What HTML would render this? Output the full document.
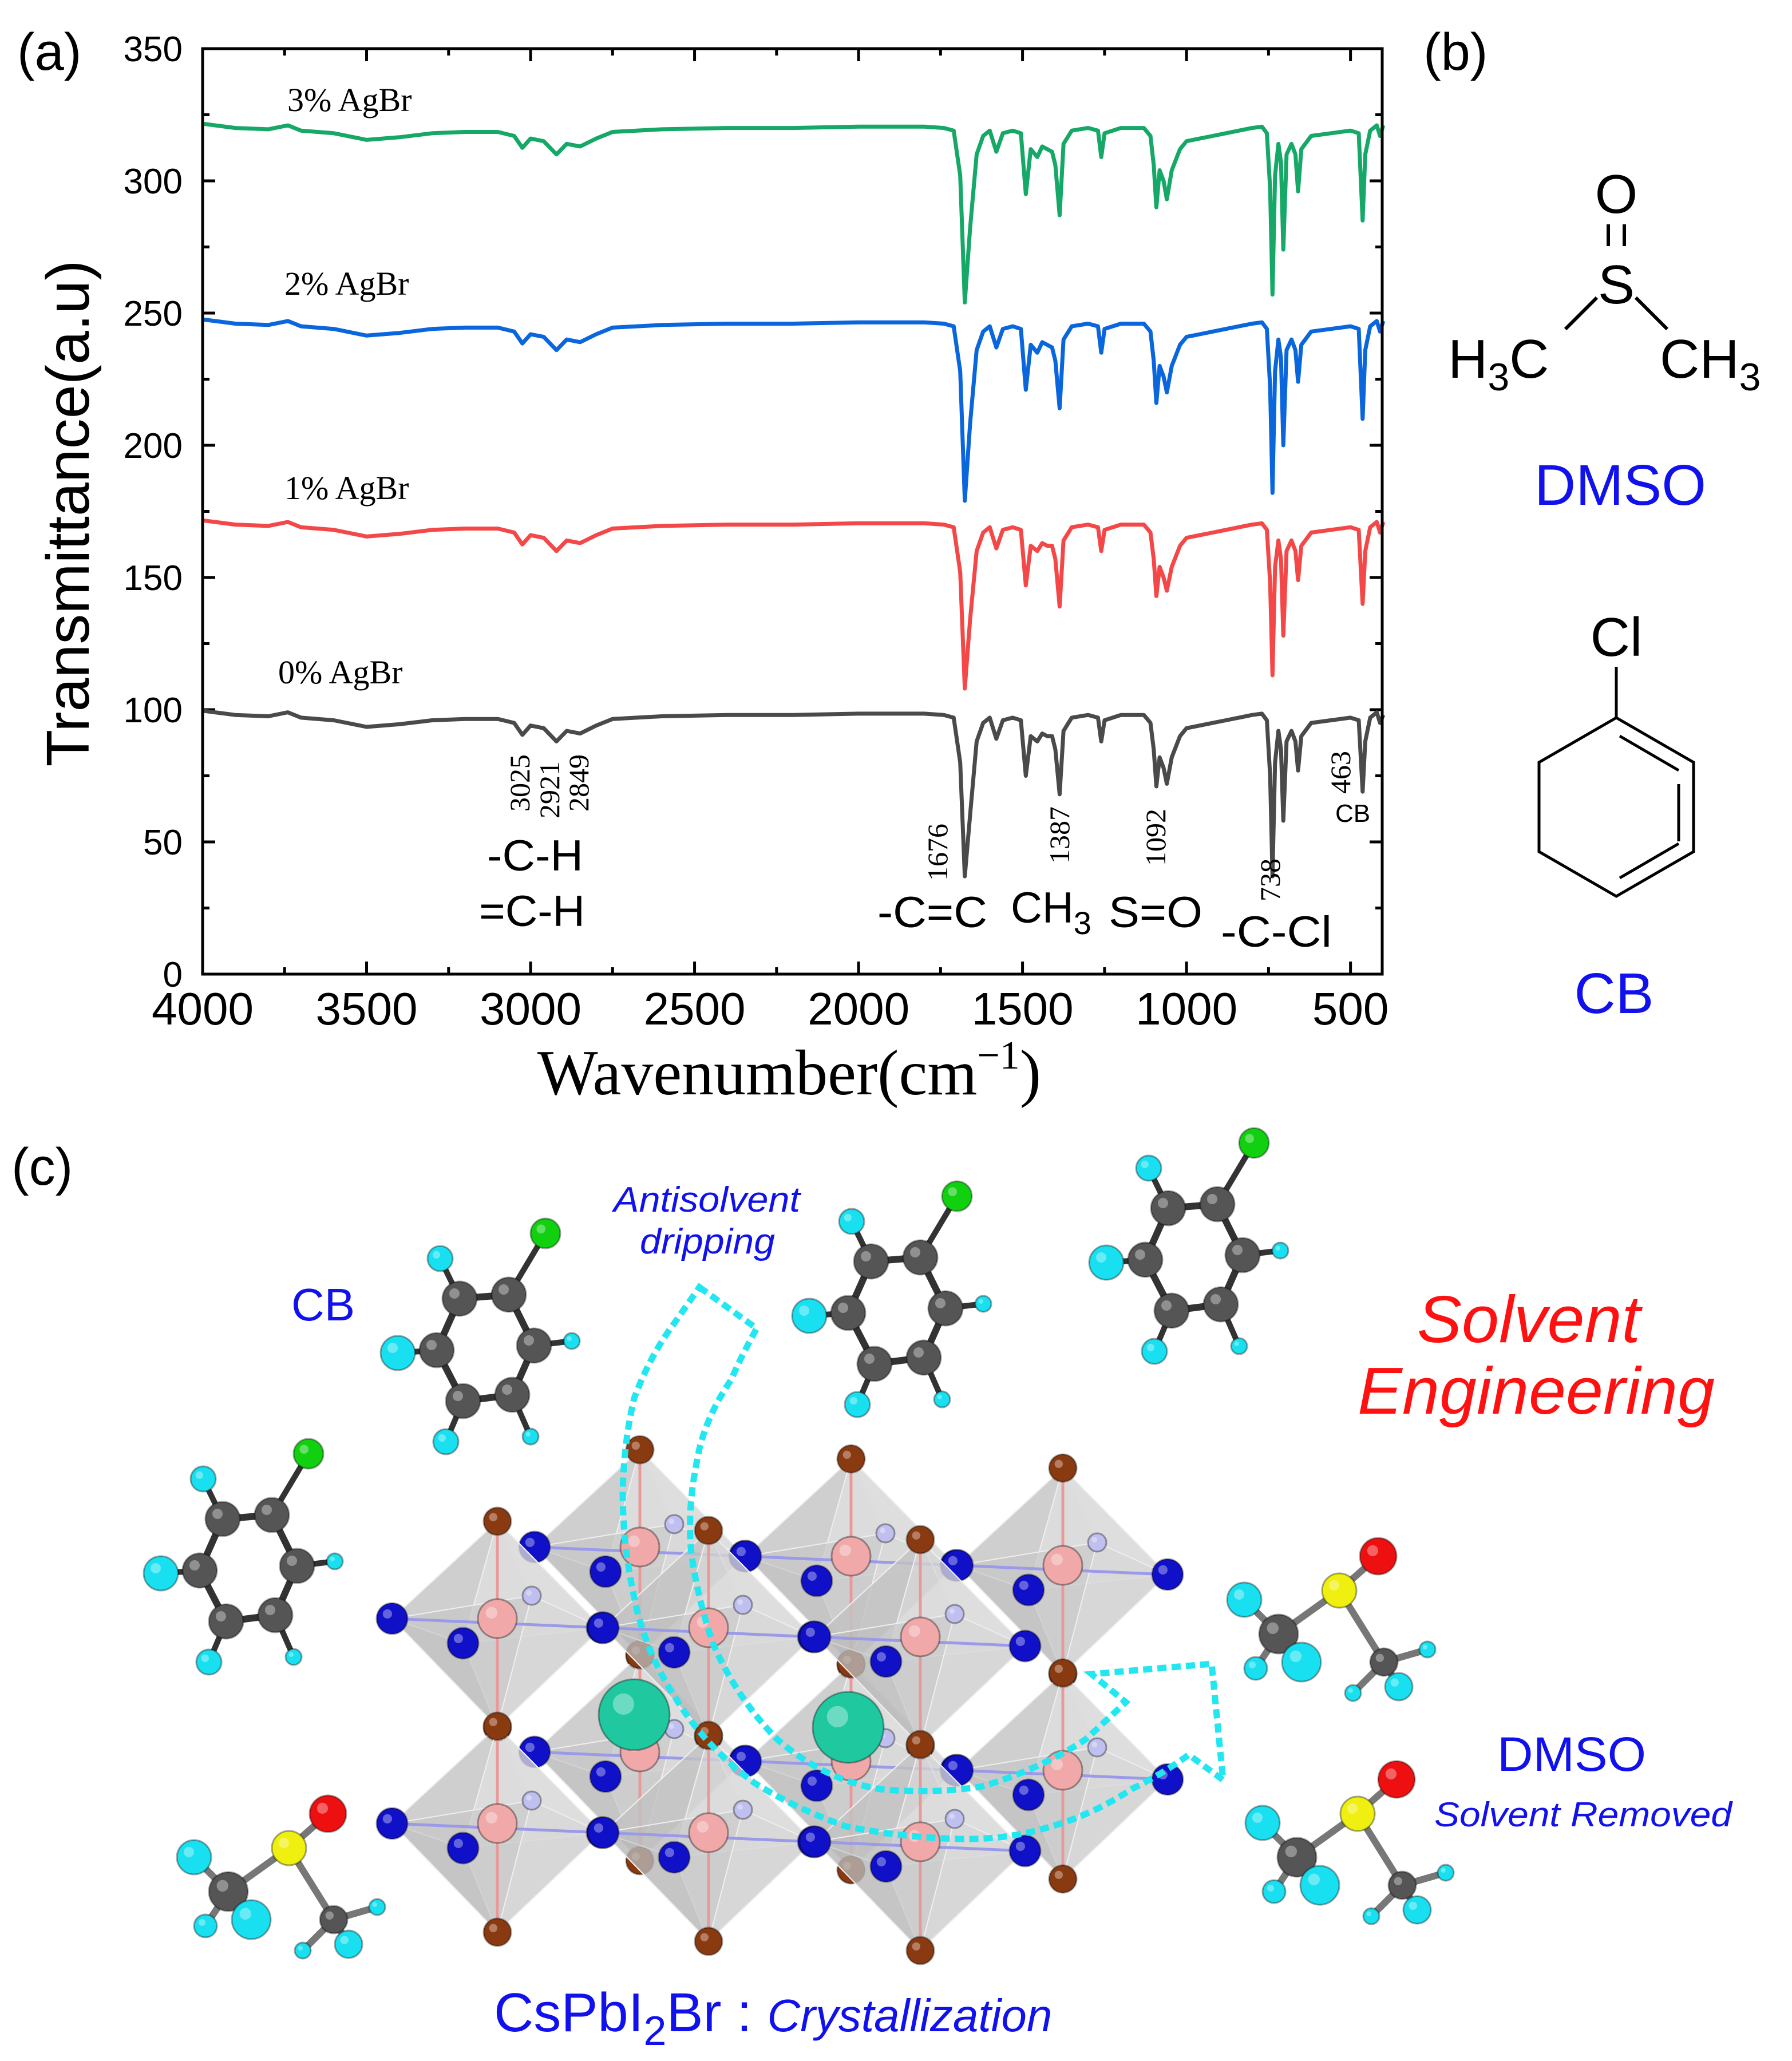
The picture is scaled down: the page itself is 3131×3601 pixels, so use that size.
<!DOCTYPE html>
<html><head><meta charset="utf-8"><style>
html,body{margin:0;padding:0;background:#fff;}
svg{display:block;}
text{font-family:"Liberation Sans",sans-serif;}
.serif{font-family:"Liberation Serif",serif;}
</style></head><body>
<svg id="fig" width="3131" height="3601" viewBox="0 0 3131 3601" xmlns="http://www.w3.org/2000/svg">
<rect width="3131" height="3601" fill="#fff"/>
<g id="panel-a">
<text x="30" y="122" font-size="92">(a)</text>
<g id="ticks"></g>
<g id="series"></g>
<rect x="354" y="85" width="2061" height="1617" fill="none" stroke="#000" stroke-width="5"/>
<text transform="translate(155,897) rotate(-90)" text-anchor="middle" font-size="106" textLength="885" lengthAdjust="spacingAndGlyphs">Transmittance(a.u)</text>
<text class="serif" x="1379" y="1912" text-anchor="middle" font-size="112">Wavenumber(cm<tspan dy="-45" font-size="70">−1</tspan><tspan dy="45">)</tspan></text>
<text class="serif" x="502" y="194" font-size="58">3% AgBr</text>
<text class="serif" x="497" y="515" font-size="58">2% AgBr</text>
<text class="serif" x="497" y="872" font-size="58">1% AgBr</text>
<text class="serif" x="486" y="1194" font-size="58">0% AgBr</text>
<g class="serif" font-size="50">
<text class="serif" transform="translate(925,1418) rotate(-90)">3025</text>
<text class="serif" transform="translate(977,1430) rotate(-90)">2921</text>
<text class="serif" transform="translate(1028,1418) rotate(-90)">2849</text>
<text class="serif" transform="translate(1655,1539) rotate(-90)">1676</text>
<text class="serif" transform="translate(1868,1509) rotate(-90)">1387</text>
<text class="serif" transform="translate(2036,1513) rotate(-90)">1092</text>
<text class="serif" transform="translate(2236,1575) rotate(-90)">738</text>
<text class="serif" transform="translate(2359,1387) rotate(-90)">463</text>
</g>
<text x="2333" y="1436" font-size="44">CB</text>
<g font-size="76">
<text x="851" y="1521" textLength="168" lengthAdjust="spacingAndGlyphs">-C-H</text>
<text x="837" y="1618" textLength="185" lengthAdjust="spacingAndGlyphs">=C-H</text>
<text x="1533" y="1620" textLength="192" lengthAdjust="spacingAndGlyphs">-C=C</text>
<text x="1766" y="1612">CH<tspan dy="20" font-size="56">3</tspan></text>
<text x="1937" y="1620" textLength="164" lengthAdjust="spacingAndGlyphs">S=O</text>
<text x="2133" y="1654" textLength="194" lengthAdjust="spacingAndGlyphs">-C-Cl</text>
</g>
</g>
<g id="panel-b">
<text x="2487" y="122" font-size="92">(b)</text>
<text x="2824" y="372" text-anchor="middle" font-size="96">O</text>
<line x1="2810" y1="392" x2="2810" y2="430" stroke="#000" stroke-width="6"/>
<line x1="2838" y1="392" x2="2838" y2="430" stroke="#000" stroke-width="6"/>
<text x="2824" y="530" text-anchor="middle" font-size="96">S</text>
<line x1="2790" y1="520" x2="2735" y2="575" stroke="#000" stroke-width="6"/>
<line x1="2858" y1="520" x2="2913" y2="575" stroke="#000" stroke-width="6"/>
<text x="2530" y="660" font-size="96">H<tspan dy="22" font-size="68">3</tspan><tspan dy="-22">C</tspan></text>
<text x="2900" y="660" font-size="96">CH<tspan dy="22" font-size="68">3</tspan></text>
<text x="2831" y="882" text-anchor="middle" font-size="100" fill="#1111ee">DMSO</text>
<text x="2824" y="1146" text-anchor="middle" font-size="96">Cl</text>
<line x1="2824" y1="1165" x2="2824" y2="1254" stroke="#000" stroke-width="5"/>
<polygon points="2824,1254 2959,1332 2959,1488 2824,1566 2689,1488 2689,1332" fill="none" stroke="#000" stroke-width="5"/>
<line x1="2830" y1="1286" x2="2933" y2="1346" stroke="#000" stroke-width="5"/>
<line x1="2933" y1="1370" x2="2933" y2="1470" stroke="#000" stroke-width="5"/>
<line x1="2830" y1="1534" x2="2933" y2="1474" stroke="#000" stroke-width="5"/>
<line x1="2715" y1="1370" x2="2715" y2="1450" stroke="#000" stroke-width="0"/>
<text x="2820" y="1770" text-anchor="middle" font-size="100" fill="#1111ee">CB</text>
</g>
<g id="panel-c">
<text x="20" y="2070" font-size="92">(c)</text>
<g id="crystal"></g>
<g id="mols"></g>
<path d="M1222,2249 L1322,2321 Q1290,2380 1278,2410 Q1230,2480 1218,2551 Q1200,2640 1208,2714 Q1220,2800 1248,2877 Q1290,2970 1358,3039 Q1440,3110 1538,3126 Q1630,3135 1717,3121 Q1820,3090 1897,3039 L1967,2974 L1907,2925 L2117,2907 L2137,3110 L2077,3066 Q2030,3100 1977,3126 Q1910,3170 1837,3191 Q1760,3215 1677,3213 Q1570,3210 1478,3191 Q1390,3160 1318,3115 Q1230,3050 1178,2963 Q1125,2880 1108,2790 Q1088,2700 1088,2605 Q1090,2520 1108,2443 Q1135,2370 1178,2312 Z" fill="none" stroke="#22e6f0" stroke-width="11" stroke-dasharray="16,9"/>
<text x="509" y="2307" font-size="80" fill="#1111ee">CB</text>
<text x="1072" y="2117" font-size="62" font-style="italic" fill="#1111ee" textLength="326" lengthAdjust="spacingAndGlyphs">Antisolvent</text>
<text x="1118" y="2190" font-size="62" font-style="italic" fill="#1111ee" textLength="236" lengthAdjust="spacingAndGlyphs">dripping</text>
<text x="2476" y="2345" font-size="116" font-style="italic" fill="#ff1111" textLength="390" lengthAdjust="spacingAndGlyphs">Solvent</text>
<text x="2372" y="2470" font-size="116" font-style="italic" fill="#ff1111" textLength="624" lengthAdjust="spacingAndGlyphs">Engineering</text>
<text x="2616" y="3094" font-size="84" fill="#1111ee" textLength="260" lengthAdjust="spacingAndGlyphs">DMSO</text>
<text x="2506" y="3191" font-size="60" font-style="italic" fill="#1111ee" textLength="520" lengthAdjust="spacingAndGlyphs">Solvent Removed</text>
<text x="863" y="3549" font-size="96" fill="#1111ee">CsPbI<tspan dy="24" font-size="72">2</tspan><tspan dy="-24">Br : </tspan><tspan font-style="italic" font-size="80">Crystallization</tspan></text>
</g>
</svg>
<script>
const wavenumbers=[4000,3900,3800,3740,3700,3600,3500,3400,3300,3200,3100,3050,3025,3000,2960,2921,2890,2849,2800,2750,2600,2400,2200,2000,1800,1740,1710,1690,1676,1660,1640,1620,1600,1580,1560,1530,1505,1490,1475,1455,1440,1425,1410,1400,1387,1375,1350,1300,1270,1260,1250,1200,1130,1110,1100,1092,1082,1070,1060,1045,1020,1000,960,920,880,840,800,770,755,745,738,730,720,712,705,695,680,668,660,650,620,560,500,475,463,455,440,420,410,400];
const agbr0=[99.6,98,97.5,99,97,96,93.5,94.5,96,96.5,96.5,95,90.5,94,93,88,92,91,94,96.5,97.5,98,98,98.5,98.5,98,97,80,37,60,88,95,97,89,96,97,96,75,90,88,91,90,90,85,68,92,97,98,97,88,96,98,98,95,85,71,82,78,72,82,90,93,94,95,96,97,98,98.5,96,75,37,80,92,85,58,88,92,88,77,90,95,96,97,96,69,88,97,99,95,98];
const agbr1=[171.6,170,169.5,171,169,168,165.5,166.5,168,168.5,168.5,167,162.5,166,165,160,164,163,166,168.5,169.5,170,170,170.5,170.5,170,169,152,108,134,160,167,169,161,168,169,168,147,162,160,163,162,162,157,139,164,169,170,169,160,168,170,170,167,157,143,154,150,145,154,162,165,166,167,168,169,170,170.5,168,148,113,154,164,157,128,160,164,160,149,162,167,168,169,168,140,160,169,171,167,171];
const agbr2=[247.6,246,245.5,247,245,244,241.5,242.5,244,244.5,244.5,243,238.5,242,241,236,240,239,242,244.5,245.5,246,246,246.5,246.5,246,245,228,179,208,236,243,245,237,244,245,244,221,238,235,239,238,237,232,214,240,245,246,245,235,244,246,246,243,232,216,230,226,220,230,238,241,242,243,244,245,246,246.5,244,222,182,228,240,233,200,236,240,236,224,238,243,244,245,244,210,236,245,247,243,247];
const agbr3=[321.6,320,319.5,321,319,318,315.5,316.5,318,318.5,318.5,317,312.5,316,315,310,314,313,316,318.5,319.5,320,320,320.5,320.5,320,319,302,254,282,310,317,319,311,318,319,318,295,312,309,313,312,311,306,287,314,319,320,319,309,318,320,320,317,306,290,304,300,293,304,312,315,316,317,318,319,320,320.5,318,297,257,302,314,307,274,310,314,310,296,312,317,318,319,318,285,310,319,321,317,321];
const xTickLabels=[4000,3500,3000,2500,2000,1500,1000,500];
const yTickLabels=[0,50,100,150,200,250,300,350];
const NS='http://www.w3.org/2000/svg';
const X0=354,X1=2415,Y0=1702,Y1=85,WMAX=4000,WMIN=403.4,VMIN=0,VMAX=350;
function xs(w){return X0+(WMAX-w)/(WMAX-WMIN)*(X1-X0);}
function ys(v){return Y0-(v-VMIN)/(VMAX-VMIN)*(Y0-Y1);}
function mk(tag,attrs,parent){const e=document.createElementNS(NS,tag);for(const k in attrs)e.setAttribute(k,attrs[k]);parent.appendChild(e);return e;}
const ticks=document.getElementById('ticks');
for(let w=4000;w>=500;w-=250){const x=xs(w),L=(w%500===0)?22:12;
 let t=mk('line',{x1:x,y1:Y0,x2:x,y2:Y0-L,stroke:'#000','stroke-width':5},ticks);
 
 
 t=mk('line',{x1:x,y1:Y1,x2:x,y2:Y1+L,stroke:'#000','stroke-width':5},ticks);
 
 }
for(let v=0;v<=350;v+=25){const y=ys(v),L=(v%50===0)?22:12;
 let t=mk('line',{x1:X0,y1:y,x2:X0+L,y2:y,stroke:'#000','stroke-width':5},ticks);
 
 
 t=mk('line',{x1:X1,y1:y,x2:X1-L,y2:y,stroke:'#000','stroke-width':5},ticks);
 
 }
xTickLabels.forEach(w=>{const t=mk('text',{x:xs(w),y:1790,'text-anchor':'middle','font-size':80},ticks);t.textContent=w;
 
 });
yTickLabels.forEach(v=>{const t=mk('text',{x:319,y:ys(v)+22,'text-anchor':'end','font-size':62},ticks);t.textContent=v;
 
 });
const series=document.getElementById('series');
[[agbr0,'#4a4a4a','series-0pct-agbr'],[agbr1,'#f44848','series-1pct-agbr'],[agbr2,'#0a66dc','series-2pct-agbr'],[agbr3,'#15a866','series-3pct-agbr']].forEach(([vals,col,name])=>{
 const d=vals.map((v,i)=>(i?'L':'M')+xs(wavenumbers[i]).toFixed(1)+','+ys(v).toFixed(1)).join(' ');
 const p=mk('path',{d:d,fill:'none',stroke:col,'stroke-width':7,'stroke-linejoin':'round'},series);
 
 });
// crystal
const cr=document.getElementById('crystal');
function ball(x,y,r,col,parent){const g=mk('circle',{cx:x,cy:y,r:r,fill:col,stroke:'rgba(0,0,0,0.35)','stroke-width':3},parent);
 mk('circle',{cx:x-r*0.3,cy:y-r*0.3,r:r*0.3,fill:'rgba(255,255,255,0.35)'},parent);return g;}
function oct(cx,cy){const g=mk('g',{},cr);
 
 
 const T=[cx,cy-170],B=[cx,cy+190],Lf=[cx-184,cy],R=[cx+183,cy+16],F=[cx-60,cy+43],K=[cx+60,cy-40];
 const faces=[[T,Lf,K],[T,K,R],[T,Lf,F],[T,F,R],[B,Lf,F],[B,F,R],[B,Lf,K],[B,K,R]];
 const shades=['#d8d8d8','#e4e4e4','#b8b8b8','#cfcfcf','#a8a8a8','#c4c4c4','#bdbdbd','#d0d0d0'];
 faces.forEach((f,i)=>mk('polygon',{points:f.map(p=>p.join(',')).join(' '),fill:shades[i],'fill-opacity':0.55,stroke:'#eee','stroke-width':2},g));
 mk('line',{x1:T[0],y1:T[1],x2:B[0],y2:B[1],stroke:'#e89a9a','stroke-width':5},g);
 mk('line',{x1:Lf[0],y1:Lf[1],x2:R[0],y2:R[1],stroke:'#9a9ae8','stroke-width':5},g);
 ball(K[0],K[1],16,'#bfc0f0',g);
 ball(cx,cy,34,'#f0a8a8',g);
 ball(T[0],T[1],24,'#8a3a10',g);ball(B[0],B[1],24,'#8a3a10',g);
 ball(Lf[0],Lf[1],27,'#1010c8',g);ball(R[0],R[1],27,'#1010c8',g);ball(F[0],F[1],27,'#1010c8',g);}
const cols=[869,1238,1608],rows=[2828,3186];
for(const r of rows)for(let i=0;i<3;i++)oct(cols[i]+249,r-125+i*16);
for(const r of rows)for(let i=0;i<3;i++)oct(cols[i],r+i*16);
[[1108,2996],[1482,3018]].forEach(([x,y])=>{const c=ball(x,y,62,'#20c8a0',cr);
 
 });
// molecules
const mols=document.getElementById('mols');
function cb(cx,cy){const g=mk('g',{},mols);
 
 
 const C=[[-46,-87],[40,-94],[84,-5],[46,81],[-40,92],[-86,3]];
 const H=[[-80,-157,22],[-154,8,30],[-70,163,22],[78,154,14],[150,-13,14]];
 const hi=[0,5,4,3,2];
 for(let i=0;i<6;i++){const a=C[i],b=C[(i+1)%6];mk('line',{x1:cx+a[0],y1:cy+a[1],x2:cx+b[0],y2:cy+b[1],stroke:'#333','stroke-width':12},g);}
 H.forEach((h,k)=>{const a=C[hi[k]];mk('line',{x1:cx+a[0],y1:cy+a[1],x2:cx+h[0],y2:cy+h[1],stroke:'#333','stroke-width':10},g);});
 mk('line',{x1:cx+40,y1:cy-94,x2:cx+104,y2:cy-201,stroke:'#333','stroke-width':10},g);
 C.forEach(a=>ball(cx+a[0],cy+a[1],30,'#555',g));
 H.forEach(h=>ball(cx+h[0],cy+h[1],h[2],'#18e0f0',g));
 ball(cx+104,cy-201,26,'#10d010',g);}
cb(849,2356);cb(1568,2291);cb(2087,2198);cb(435,2741);
function dmso(dx,dy){const g=mk('g',{},mols);
 
 
 const S=[505,3229],O=[573,3169],C1=[399,3305],C2=[583,3354];
 const H=[[339,3245,30,C1],[359,3365,20,C1],[439,3354,34,C1],[529,3408,14,C2],[609,3397,24,C2],[659,3332,14,C2]];
 const L=(a,b)=>mk('line',{x1:a[0]+dx,y1:a[1]+dy,x2:b[0]+dx,y2:b[1]+dy,stroke:'#777','stroke-width':12},g);
 L(S,O);L(S,C1);L(S,C2);H.forEach(h=>L(h,h[3]));
 ball(C1[0]+dx,C1[1]+dy,34,'#555',g);ball(C2[0]+dx,C2[1]+dy,24,'#555',g);
 H.forEach(h=>ball(h[0]+dx,h[1]+dy,h[2],'#18e0f0',g));
 ball(S[0]+dx,S[1]+dy,30,'#f0f010',g);ball(O[0]+dx,O[1]+dy,32,'#ee1010',g);}
dmso(0,0);dmso(1835,-450);dmso(1867,-60);
</script>
</body></html>
